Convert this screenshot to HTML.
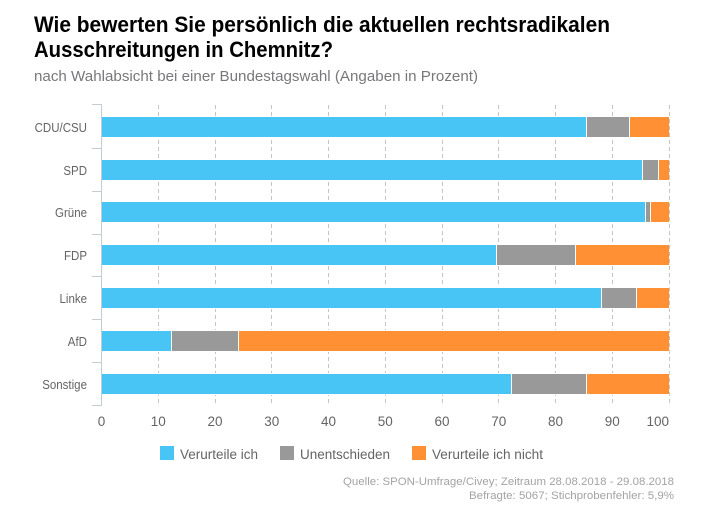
<!DOCTYPE html>
<html lang="de">
<head>
<meta charset="utf-8">
<title>Chemnitz Umfrage</title>
<style>
html,body{margin:0;padding:0;background:#fff;width:708px;height:519px;overflow:hidden}
svg{display:block;font-family:"Liberation Sans",sans-serif}
</style>
</head>
<body>
<svg id="chart" width="708" height="519" viewBox="0 0 708 519" xmlns="http://www.w3.org/2000/svg">
  <rect width="708" height="519" fill="#fff"/>
  <text x="34" y="32" font-size="22" font-weight="700" fill="#000" textLength="576" lengthAdjust="spacingAndGlyphs">Wie bewerten Sie persönlich die aktuellen rechtsradikalen</text>
  <text x="34" y="57" font-size="22" font-weight="700" fill="#000" textLength="299" lengthAdjust="spacingAndGlyphs">Ausschreitungen in Chemnitz?</text>
  <text x="34" y="81" font-size="15" fill="#77787b" textLength="444" lengthAdjust="spacingAndGlyphs">nach Wahlabsicht bei einer Bundestagswahl (Angaben in Prozent)</text>
  <g id="grid"></g>
  <g id="yaxis"></g>
  <g id="bars"></g>
  <g id="xaxis"></g>
  <g>
    <rect x="160" y="446" width="14" height="14" fill="#48c5f5"/>
    <text x="180" y="459" font-size="13.5" fill="#636466" textLength="78" lengthAdjust="spacingAndGlyphs">Verurteile ich</text>
    <rect x="280" y="446" width="14" height="14" fill="#999999"/>
    <text x="300" y="459" font-size="13.5" fill="#636466" textLength="90" lengthAdjust="spacingAndGlyphs">Unentschieden</text>
    <rect x="412" y="446" width="14" height="14" fill="#ff9033"/>
    <text x="432" y="459" font-size="13.5" fill="#636466" textLength="111" lengthAdjust="spacingAndGlyphs">Verurteile ich nicht</text>
  </g>
  <text x="674" y="485" text-anchor="end" font-size="11" fill="#a3a3a3" textLength="331" lengthAdjust="spacingAndGlyphs">Quelle: SPON-Umfrage/Civey; Zeitraum 28.08.2018 - 29.08.2018</text>
  <text x="674" y="499" text-anchor="end" font-size="11" fill="#a3a3a3" textLength="205" lengthAdjust="spacingAndGlyphs">Befragte: 5067; Stichprobenfehler: 5,9%</text>
</svg>
<script>
const categories = ["CDU/CSU","SPD","Grüne","FDP","Linke","AfD","Sonstige"];
const verurteile = [85.3,95.3,95.8,69.6,88.1,12.3,72.2];
const unentschieden = [7.7,2.8,0.9,13.8,6.0,11.7,13.1];
const nichtVerurteile = [7.0,1.9,3.3,16.6,5.9,76.0,14.7];
const xTicks = [0,10,20,30,40,50,60,70,80,90,100];

const NS = "http://www.w3.org/2000/svg";
const X0 = 101.5, X1 = 669, YTOP = 105.17, BAND = 42.83, YBOT = 405, BAR_H = 20;
function xScale(v){ return X0 + (X1 - X0) * v / 100; }
function tickRow(i){ return i === 0 ? 104 : Math.round(YTOP + BAND * i); }
function barCenter(i){ return Math.round(YTOP + 21.63 + BAND * i); }
function make(tag, attrs, parent){
  const el = document.createElementNS(NS, tag);
  for (const k in attrs) el.setAttribute(k, attrs[k]);
  parent.appendChild(el);
  return el;
}
const grid = document.getElementById("grid");
const yaxis = document.getElementById("yaxis");
const xaxis = document.getElementById("xaxis");
const bars = document.getElementById("bars");

xTicks.forEach(function(t){
  if (t > 0) {
    const x = Math.floor(xScale(t)) + 0.5;
    const g = make("line", {x1:x, x2:x, y1:105, y2:404, stroke:"#c4c4c4", "stroke-width":1, "stroke-dasharray":"4 3"}, grid);
    
    
  }
  const label = make("text", {x:xScale(t), y:426, "font-size":13.5, fill:"#636466", "text-anchor": t === 100 ? "end" : "middle"}, xaxis);
  
  
  label.textContent = t;
});

const axisLine = make("line", {x1:X0, x2:X0, y1:104, y2:YBOT + 1, stroke:"#c3ccd3", "stroke-width":1}, yaxis);


for (let i = 0; i <= categories.length; i++) {
  const y = tickRow(i) + 0.5;
  const tick = make("line", {x1:92, x2:X0, y1:y, y2:y, stroke:"#c3ccd3", "stroke-width":1}, yaxis);
  
  
}

const seriesList = [
  {values: verurteile, color: "#48c5f5"},
  {values: unentschieden, color: "#999999"},
  {values: nichtVerurteile, color: "#ff9033"}
];
categories.forEach(function(cat, i){
  const yc = barCenter(i);
  const label = make("text", {x:87, y:yc + 5, "font-size":12.5, fill:"#636466", "text-anchor":"end"}, yaxis);
  
  
  label.textContent = cat;
  label.setAttribute("lengthAdjust", "spacingAndGlyphs");
  label.setAttribute("textLength", (label.getComputedTextLength() * 0.92).toFixed(1));
  let acc = 0;
  seriesList.forEach(function(s){
    const xa = Math.round(xScale(acc)) + (acc > 0 ? 1 : 0);
    const xb = Math.round(xScale(acc + s.values[i]));
    const r = make("rect", {x:xa, y:yc - BAR_H / 2, width:Math.max(0, xb - xa), height:BAR_H, fill:s.color}, bars);
    
    
    acc += s.values[i];
  });
  const gap = make("rect", {x:X0 + 0.5, y:yc - BAR_H / 2 - 1, width:X1 - X0, height:1, fill:"#fff"}, bars);
  
  
  const gapB = make("rect", {x:X0 + 0.5, y:yc + BAR_H / 2, width:X1 - X0, height:1, fill:"#fff"}, bars);
  
  
});
</script>
</body>
</html>
